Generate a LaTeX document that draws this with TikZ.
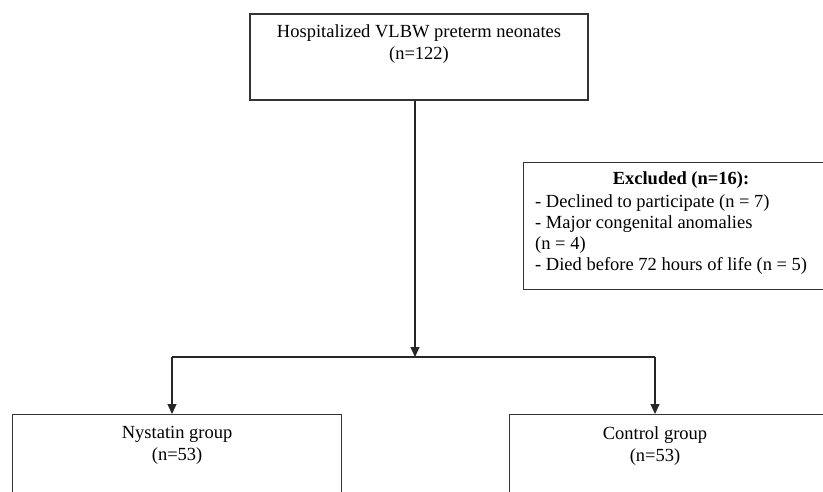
\documentclass[tikz,border=0pt]{standalone}
\usepackage{fontspec}
\setmainfont{Liberation Serif}
\usetikzlibrary{positioning,calc,arrows.meta}

\tikzset{
    box/.style={draw=black!80, line width=1.2pt, rectangle, inner sep=0pt},
    txt/.style={align=center, font=\fontsize{18.5}{22}\selectfont, inner sep=0pt},
    flow/.style={draw=black!85, line width=1.2pt},
    flowarrow/.style={flow, -{Triangle[length=10pt,width=9pt]}}
}

\begin{document}
\begin{tikzpicture}[x=1pt, y=1pt]
    \useasboundingbox (0,0) rectangle (823,-491);
    
    \coordinate (split) at (415,-357);
    \coordinate (leftend) at (172,-357);
    \coordinate (rightend) at (655,-357);
    
    \node[box, minimum width=338pt, minimum height=86pt] (hosp) at (419,-57) {};
    \node[txt, below=11pt of hosp.north] (hosptxt) {Hospitalized VLBW preterm neonates\\(n=122)};
    
    \node[box, minimum width=310pt, minimum height=127pt, anchor=north west] (excl) at (523,-162) {};
    \node[txt, font=\fontsize{18.5}{21}\selectfont\bfseries] (excltitle) at (681,-180) {Excluded (n=16):};
    \node[txt, font=\fontsize{18.5}{21}\selectfont, align=left, anchor=north west] (excllist) at (535,-194) {- Declined to participate (n = 7)\\- Major congenital anomalies\\(n = 4)\\- Died before 72 hours of life (n = 5)};
    
    \node[box, minimum width=329pt, minimum height=120pt, anchor=north west] (nyst) at (12,-414) {};
    \node[txt, below=12pt of nyst.north] (nysttxt) {Nystatin group\\(n=53)};
    
    \node[box, minimum width=330pt, minimum height=120pt, anchor=north west] (ctrl) at (509,-414) {};
    \coordinate (ctrltop) at (ctrl.north -| rightend);
    \node[txt, below=12pt of ctrltop] (ctrltxt) {Control group\\(n=53)};
    
    \draw[flowarrow] (hosp.south -| split) -- (split);
    \draw[flow] (leftend) -- (rightend);
    \draw[flowarrow] (leftend) -- (leftend |- nyst.north);
    \draw[flowarrow] (rightend) -- (rightend |- ctrl.north);
\end{tikzpicture}
\end{document}
